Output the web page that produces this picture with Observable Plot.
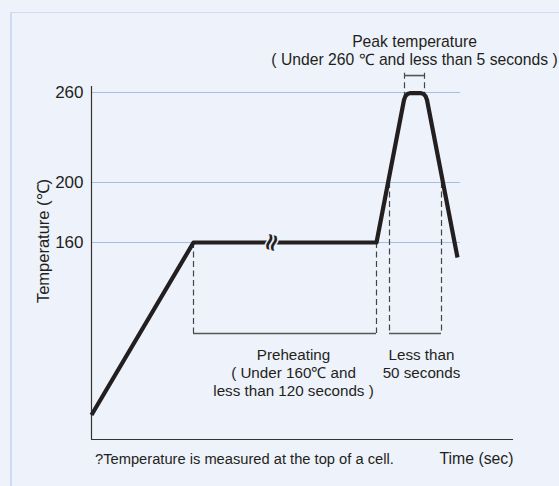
<!DOCTYPE html>
<html><head><meta charset="utf-8">
<script src="https://cdn.jsdelivr.net/npm/d3@7"></script>
<script src="https://cdn.jsdelivr.net/npm/@observablehq/plot@0.6"></script>
<style>
html,body{margin:0;padding:0;background:#eef2fa;width:559px;height:486px;overflow:hidden;}
#frame{position:absolute;left:10px;top:12px;width:600px;height:600px;border-left:2px solid #cfdbf1;border-top:1.5px solid #cfdbf1;}
#chart{position:absolute;left:0;top:0;}
</style></head><body><div id="frame"></div><div id="chart"></div>
<script>
// Scales (arbitrary time units, °C)
const timeDomain = [0, 422];
const tempDomain = [28.7, 264];

// Temperature profile
const profileTime = [0, 102, 285, 312.5, 314, 316, 318.5, 329.5, 332, 334, 335.5, 366];
const profileTemp = [45, 160, 160, 255, 257.6, 259, 259.6, 259.6, 259, 257.6, 255, 150];

// Reference temperatures (gridlines / tick labels)
const gridTemps = [160, 200, 260];
const gridTickLabels = ["160", "200", "260"];
const gridEnd = 369;

// Brackets
const preheatStart = 102, preheatEnd = 285;
const reflowStart = 298, reflowEnd = 350, reflowTemp = 200;
const bracketLevel = 99.4;
const peakStart = 313, peakEnd = 333, peakTop = 272.9, peakBar = 271.3, peakBottom = 258;
const breakTime = 180;

// Texts
const peakLabel = "Peak temperature\n( Under 260 \u2103 and less than 5 seconds )";
const preheatLabel = "Preheating\n( Under 160\u2103 and\nless than 120 seconds )";
const reflowLabel = "Less than\n50 seconds";
const yLabel = "Temperature (\u2103)";
const xLabel = "Time (sec)";
const footnote = "?Temperature is measured at the top of a cell.";

const profile = profileTime.map((t, i) => ({t, temp: profileTemp[i]}));
const ink = "#231f20";
const bg = "#eef2fa";
const dash = "6,3.5";

const chart = Plot.plot({
  width: 559, height: 486,
  marginLeft: 91, marginRight: 46, marginTop: 86, marginBottom: 47,
  x: {domain: timeDomain, axis: null},
  y: {domain: tempDomain},
  style: {background: "transparent", fontFamily: "'Liberation Sans', Arial, sans-serif", fontSize: "15px", color: ink, overflow: "visible"},
  marks: [
    Plot.ruleY(gridTemps, {x1: 0, x2: gridEnd, stroke: "#a6bee6", strokeWidth: 1.2}),
    Plot.ruleX([timeDomain[0]], {y1: tempDomain[0], y2: tempDomain[1], stroke: "#333", strokeWidth: 1.2}),
    Plot.ruleY([tempDomain[0]], {x1: timeDomain[0], x2: timeDomain[1], stroke: "#333", strokeWidth: 1.2}),
    Plot.axisY(gridTemps, {tickSize: 0, tickPadding: 8, fontSize: 17, label: null, tickFormat: (d) => gridTickLabels[gridTemps.indexOf(d)], fill: ink}),
    // preheat bracket
    Plot.ruleX([preheatStart, preheatEnd], {y1: 160, y2: bracketLevel, stroke: "#444", strokeWidth: 1.2, strokeDasharray: dash}),
    Plot.ruleY([bracketLevel], {x1: preheatStart, x2: preheatEnd, stroke: "#555", strokeWidth: 1.6}),
    // reflow bracket
    Plot.ruleX([reflowStart, reflowEnd], {y1: reflowTemp, y2: bracketLevel, stroke: "#444", strokeWidth: 1.2, strokeDasharray: dash}),
    Plot.ruleY([bracketLevel], {x1: reflowStart, x2: reflowEnd, stroke: "#555", strokeWidth: 1.6}),
    // peak bracket
    Plot.ruleX([peakStart, peakEnd], {y1: peakTop, y2: peakBottom, stroke: "#444", strokeWidth: 1.2, strokeDasharray: dash}),
    Plot.ruleY([peakBar], {x1: peakStart, x2: peakEnd, stroke: "#555", strokeWidth: 1.6}),
    // profile
    Plot.line(profile, {x: "t", y: "temp", stroke: ink, strokeWidth: 4.2, strokeLinejoin: "round", strokeLinecap: "butt"}),
    // break symbol
    Plot.text([breakTime], {x: d => d, y: 160, text: () => "\u2248", fontSize: 24, rotate: -75, fill: ink, stroke: bg, strokeWidth: 3, fontFamily: "DejaVu Sans", fontWeight: "bold"}),
    // labels
    Plot.text([peakLabel], {x: (peakStart + peakEnd) / 2, y: 278, text: d => d, lineAnchor: "bottom", lineHeight: 1.17, fontSize: 15.7, fill: ink}),
    Plot.text([preheatLabel], {x: (preheatStart + preheatEnd) / 2, dx: 8.5, y: 89.8, text: d => d, lineAnchor: "top", lineHeight: 1.167, fontSize: 15.2, fill: ink}),
    Plot.text([reflowLabel], {x: (reflowStart + reflowEnd) / 2, dx: 6, y: 89.8, text: d => d, lineAnchor: "top", lineHeight: 1.167, fontSize: 15.2, fill: ink}),
    Plot.text([footnote], {x: 3.5, y: 12.7, text: d => d, textAnchor: "start", lineAnchor: "bottom", fontSize: 14.7, fill: ink}),
    Plot.text([xLabel], {x: timeDomain[1], y: 12.7, text: d => d, textAnchor: "end", lineAnchor: "bottom", fontSize: 15.8, fill: ink}),
    Plot.text([yLabel], {x: -48, y: 161, text: d => d, rotate: -90, fontSize: 16.5, fill: ink})
  ]
});
document.getElementById("chart").appendChild(chart);
</script></body></html>
